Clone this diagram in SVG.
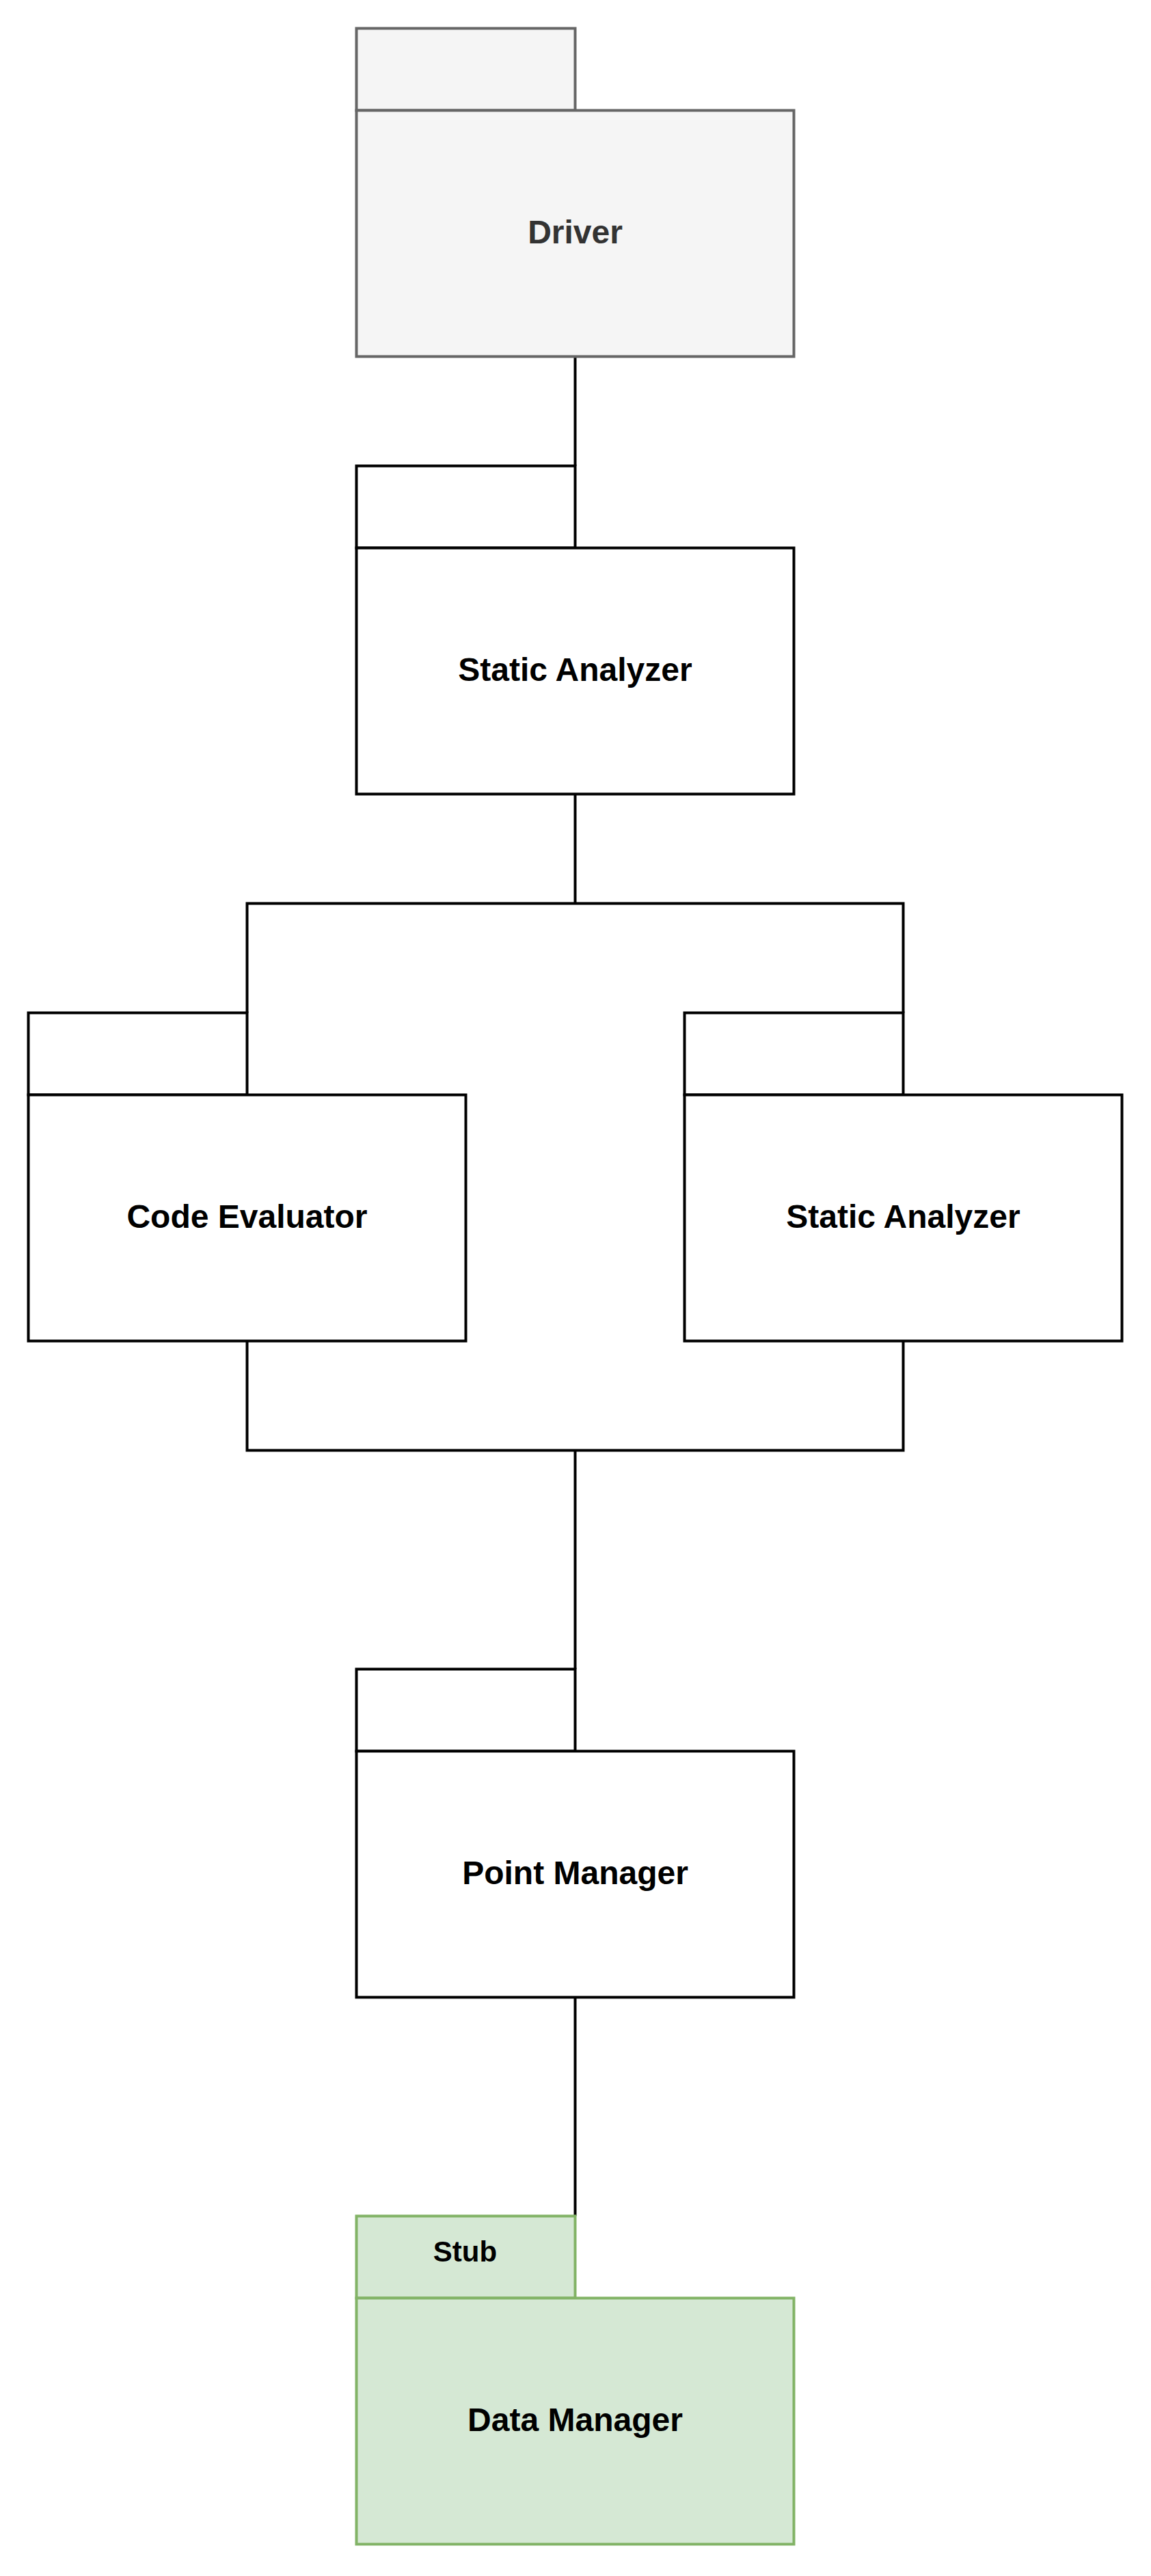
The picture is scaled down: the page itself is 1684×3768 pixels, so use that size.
<svg xmlns="http://www.w3.org/2000/svg" width="1684" height="3768" viewBox="0 0 1684 3768">
<style>
  .pkg { fill: #ffffff; stroke: #000000; stroke-width: 4; }
  .gray { fill: #f5f5f5; stroke: #666666; }
  .green { fill: #d5e8d4; stroke: #82b366; }
  .conn { fill: none; stroke: #000000; stroke-width: 4; }
  .lbl { font-family: "Liberation Sans", Arial, Helvetica, sans-serif; font-weight: bold; font-size: 48px; text-anchor: middle; fill: #000000; }
  .tab { font-size: 42px; }
</style>
<rect width="1684" height="3768" fill="#ffffff"/>
<g id="connectors">
  <path class="conn" d="M841.5 521.5 V681.5"/>
  <path class="conn" d="M841.5 1161.5 V1321.5 M361.5 1481.5 V1321.5 H1321.5 V1481.5"/>
  <path class="conn" d="M361.5 1961.5 V2121.5 H1321.5 V1961.5 M841.5 2121.5 V2441.5"/>
  <path class="conn" d="M841.5 2921.5 V3241.5"/>
</g>
<g id="driver">
  <rect class="pkg gray" x="521.5" y="41.5" width="320" height="120"/>
  <rect class="pkg gray" x="521.5" y="161.5" width="640" height="360"/>
  <text class="lbl" x="841.5" y="356" style="fill:#333333">Driver</text>
</g>
<g id="static-analyzer-1">
  <rect class="pkg" x="521.5" y="681.5" width="320" height="120"/>
  <rect class="pkg" x="521.5" y="801.5" width="640" height="360"/>
  <text class="lbl" x="841.5" y="996">Static Analyzer</text>
</g>
<g id="code-evaluator">
  <rect class="pkg" x="41.5" y="1481.5" width="320" height="120"/>
  <rect class="pkg" x="41.5" y="1601.5" width="640" height="360"/>
  <text class="lbl" x="361.5" y="1796">Code Evaluator</text>
</g>
<g id="static-analyzer-2">
  <rect class="pkg" x="1001.5" y="1481.5" width="320" height="120"/>
  <rect class="pkg" x="1001.5" y="1601.5" width="640" height="360"/>
  <text class="lbl" x="1321.5" y="1796">Static Analyzer</text>
</g>
<g id="point-manager">
  <rect class="pkg" x="521.5" y="2441.5" width="320" height="120"/>
  <rect class="pkg" x="521.5" y="2561.5" width="640" height="360"/>
  <text class="lbl" x="841.5" y="2756">Point Manager</text>
</g>
<g id="data-manager">
  <rect class="pkg green" x="521.5" y="3241.5" width="320" height="120"/>
  <rect class="pkg green" x="521.5" y="3361.5" width="640" height="360"/>
  <text class="lbl tab" x="680.5" y="3308">Stub</text>
  <text class="lbl" x="841.5" y="3556">Data Manager</text>
</g>
</svg>
